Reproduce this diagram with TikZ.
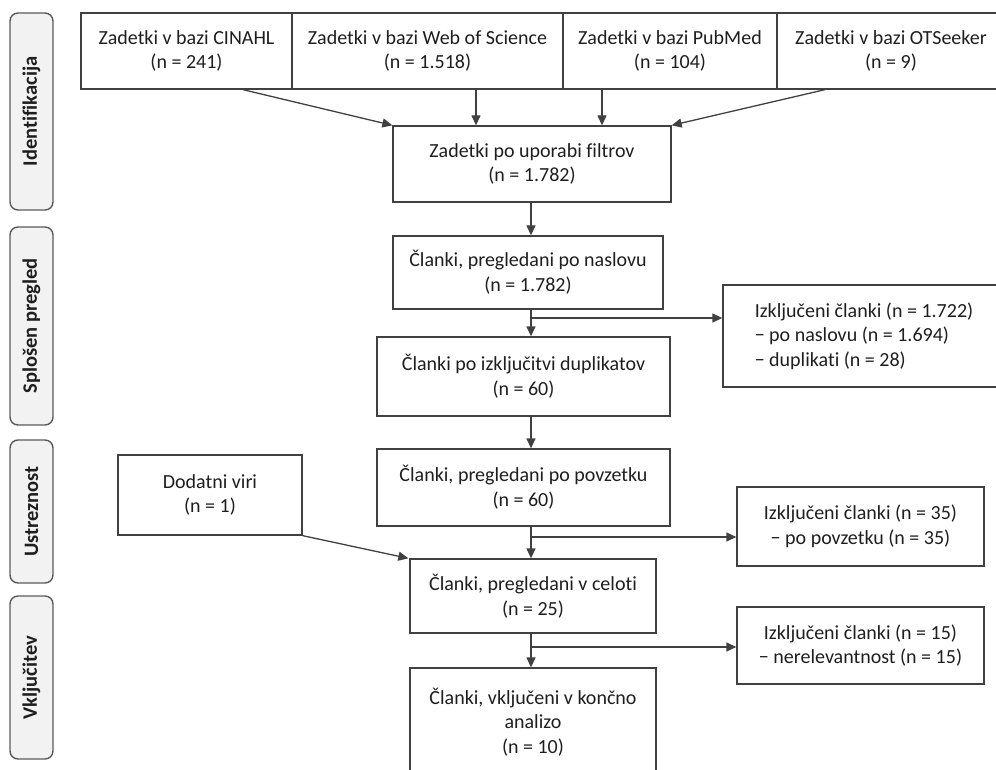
\documentclass[tikz,border=0pt]{standalone}
\usepackage{fontspec}
\setmainfont{Carlito}[RawFeature={-liga;-clig;-calt;-dlig}]
\usetikzlibrary{arrows.meta,calc}
\definecolor{linec}{RGB}{64,64,64}
\definecolor{textc}{RGB}{30,30,30}
\definecolor{phasefill}{RGB}{242,242,242}
\definecolor{phaseline}{RGB}{90,90,90}
\tikzset{
  pbox/.style 2 args={draw=linec, line width=1.3pt, minimum width=#1, minimum height=#2,
    align=center, inner sep=0pt, text=textc, font=\fontsize{20}{24.7}\selectfont},
  phase/.style 2 args={draw=phaseline, fill=phasefill, line width=1.4pt, rounded corners=8pt,
    rotate=90, minimum width=#1, minimum height=#2, inner sep=0pt, text=textc,
    font=\fontsize{20.5}{24}\selectfont\bfseries},
  arr/.style={draw=linec, line width=1.3pt, -{Triangle[length=10pt,width=9pt]}},
  ln/.style={draw=linec, line width=1.3pt}
}
\begin{document}
\begin{tikzpicture}[x=1pt,y=-1pt]
\useasboundingbox (0,0) rectangle (996,770);
\clip (0,0) rectangle (996,770);

% phase labels on the left
\node[phase={197pt}{43pt}] (ph1) at (31.5,111.5) {Identifikacija};
\node[phase={198pt}{43pt}] (ph2) at (31.5,326) {Splošen pregled};
\node[phase={143pt}{43pt}] (ph3) at (31.5,511.5) {Ustreznost};
\node[phase={163pt}{43pt}] (ph4) at (31.5,677.5) {Vključitev};

% database hits
\node[pbox={211pt}{76pt}] (cin) at (186.5,51) {Zadetki v bazi CINAHL\\(n = 241)};
\node[pbox={271pt}{76pt}] (wos) at (427.5,51) {Zadetki v bazi Web of Science\\(n = 1.518)};
\node[pbox={214pt}{76pt}] (pub) at (670,51) {Zadetki v bazi PubMed\\(n = 104)};
\node[pbox={228pt}{76pt}] (ots) at (891,51) {Zadetki v bazi OTSeeker\\(n = 9)};

% main flow
\node[pbox={278pt}{76pt}] (filt) at (532,164) {Zadetki po uporabi filtrov\\(n = 1.782)};
\node[pbox={270pt}{73pt}] (nasl) at (528,272.5) {Članki, pregledani po naslovu\\(n = 1.782)};
\node[pbox={293pt}{79pt}] (dup) at (523.5,376.5) {Članki po izključitvi duplikatov\\(n = 60)};
\node[pbox={293pt}{77pt}] (povz) at (523.5,487.5) {Članki, pregledani po povzetku\\(n = 60)};
\node[pbox={246pt}{74pt}] (cel) at (533,596) {Članki, pregledani v celoti\\(n = 25)};
\node[pbox={246pt}{108pt}] (vkl) at (533,722) {Članki, vključeni v končno\\analizo\\(n = 10)};

% side boxes
\node[pbox={282pt}{102pt}, align=left] (exc1) at (864,336) {Izključeni članki (n = 1.722)\\− po naslovu (n = 1.694)\\− duplikati (n = 28)};
\node[pbox={247pt}{79pt}] (exc2) at (860.5,526.5) {Izključeni članki (n = 35)\\− po povzetku (n = 35)};
\node[pbox={247pt}{77pt}] (exc3) at (860.5,645.5) {Izključeni članki (n = 15)\\− nerelevantnost (n = 15)};
\node[pbox={184pt}{80pt}] (dod) at (210,495) {Dodatni viri\\(n = 1)};

% trunk and branch points
\coordinate (trunk) at (531,0);
\coordinate (br1) at (531,318);
\coordinate (br2) at (531,537);
\coordinate (br3) at (531,647);

% database hits into filtered hits
\draw[arr] ([xshift=56.5pt]cin.south) -- (filt.north west);
\draw[arr] ([xshift=48.5pt]wos.south) -- ([xshift=48.5pt]wos.south |- filt.north);
\draw[arr] ([xshift=-68pt]pub.south) -- ([xshift=-68pt]pub.south |- filt.north);
\draw[arr] ([xshift=-66pt]ots.south) -- (filt.north east);

% vertical flow
\draw[arr] (filt.south -| trunk) -- (nasl.north -| trunk);
\draw[arr] (nasl.south -| trunk) -- (dup.north -| trunk);
\draw[arr] (dup.south -| trunk) -- (povz.north -| trunk);
\draw[arr] (povz.south -| trunk) -- (cel.north -| trunk);
\draw[arr] (cel.south -| trunk) -- (vkl.north -| trunk);

% exclusions
\draw[arr] (br1) -- (br1 -| exc1.west);
\draw[arr] (br2) -- (br2 -| exc2.west);
\draw[arr] (br3) -- (br3 -| exc3.west);

% additional sources
\draw[arr] (dod.south east) -- ([xshift=-1pt]cel.north west);
\end{tikzpicture}
\end{document}
